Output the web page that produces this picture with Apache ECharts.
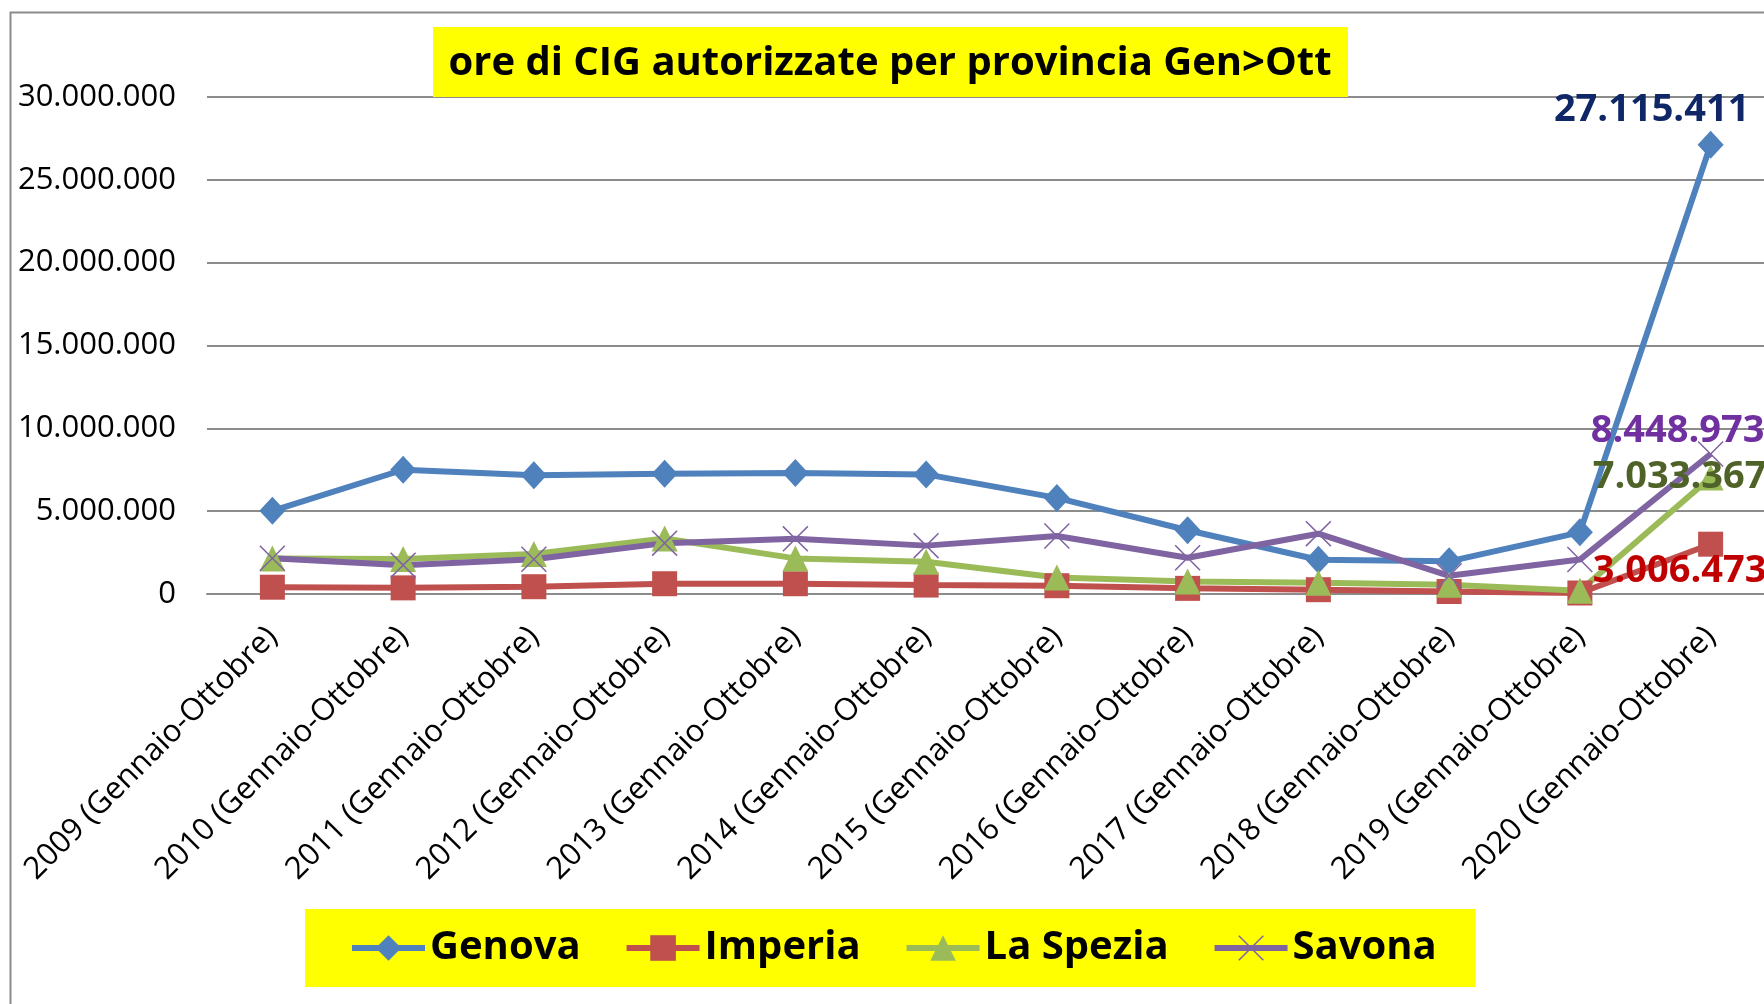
<!DOCTYPE html>
<html>
<head>
<meta charset="utf-8">
<script src="https://cdn.jsdelivr.net/npm/echarts@6/dist/echarts.min.js"></script>
<style>
  html, body { margin: 0; padding: 0; background: #fff; }
  #chart { width: 1764px; height: 1004px; }
</style>
</head>
<body>
<div id="chart"></div>
<script>
const categories = [
  '2009 (Gennaio-Ottobre)', '2010 (Gennaio-Ottobre)', '2011 (Gennaio-Ottobre)',
  '2012 (Gennaio-Ottobre)', '2013 (Gennaio-Ottobre)', '2014 (Gennaio-Ottobre)',
  '2015 (Gennaio-Ottobre)', '2016 (Gennaio-Ottobre)', '2017 (Gennaio-Ottobre)',
  '2018 (Gennaio-Ottobre)', '2019 (Gennaio-Ottobre)', '2020 (Gennaio-Ottobre)'
]
const genova = [5020000, 7500000, 7170000, 7260000, 7300000, 7220000, 5800000, 3850000, 2070000, 1970000, 3720000, 27115411]
const imperia = [410000, 370000, 440000, 620000, 620000, 540000, 500000, 340000, 260000, 150000, 60000, 3006473]
const laSpezia = [2150000, 2120000, 2420000, 3350000, 2150000, 1950000, 1000000, 760000, 680000, 560000, 200000, 7033367]
const savona = [2160000, 1740000, 2100000, 3070000, 3330000, 2920000, 3500000, 2190000, 3640000, 1100000, 2080000, 8448973]
const yMin = 0
const yMax = 30000000
const yStep = 5000000

const FONT = "'Open Sans', sans-serif"
const fmt = v => String(Math.round(v)).replace(/\B(?=(\d{3})+(?!\d))/g, '.')

const xSymbol = 'path://M0,1L1,0L12,11L23,0L24,1L13,12L24,23L23,24L12,13L1,24L0,23L11,12Z'

// only the last point of each line carries a value label
const withLastLabel = values => values.map((v, i) =>
  i === values.length - 1 ? { value: v, label: { show: true } } : v)

const makeSeries = (name, values, color, symbol, symbolSize, labelColor, offset) => ({
  name,
  type: 'line',
  data: withLastLabel(values),
  symbol,
  symbolSize,
  showAllSymbol: true,
  lineStyle: { color, width: 6 },
  itemStyle: { color },
  emphasis: { disabled: true },
  label: {
    show: false,
    position: 'inside',
    offset,
    formatter: p => fmt(p.value),
    color: labelColor,
    fontFamily: FONT,
    fontWeight: 'bold',
    fontSize: 38
  }
})

const chart = echarts.init(document.getElementById('chart'))

chart.setOption({
  backgroundColor: '#fff',
  animation: false,
  graphic: [
    {
      type: 'rect',
      left: 8, top: 10,
      shape: { width: 1800, height: 1100 },
      style: { fill: 'none', stroke: '#8c8c8c', lineWidth: 2 },
      silent: true
    },
    {
      type: 'rect',
      left: 433, top: 27,
      shape: { width: 915, height: 70 },
      style: { fill: '#ffff00' },
      z: 10
    },
    {
      type: 'text',
      x: 890, y: 64,
      style: {
        text: 'ore di CIG autorizzate per provincia Gen>Ott',
        fill: '#000',
        font: 'bold 40px ' + FONT,
        textAlign: 'center',
        textVerticalAlign: 'middle'
      },
      z: 11
    }
  ],
  grid: {
    left: 207, width: 1569, top: 97, bottom: 410,
    containLabel: false,
    outerBoundsMode: 'none'
  },
  legend: {
    left: 305,
    top: 909,
    padding: [19, 39, 19, 44],
    backgroundColor: '#ffff00',
    itemWidth: 73,
    itemHeight: 32,
    itemGap: 43,
    lineStyle: { width: 6 },
    textStyle: { fontFamily: FONT, fontWeight: 'bold', fontSize: 40, color: '#000' },
    data: ['Genova', 'Imperia', 'La Spezia', 'Savona']
  },
  xAxis: {
    type: 'category',
    data: categories,
    boundaryGap: true,
    axisLine: { lineStyle: { color: '#8c8c8c', width: 2 } },
    axisTick: { show: false },
    axisLabel: {
      interval: 0,
      rotate: 45,
      margin: 38,
      color: '#000',
      fontFamily: FONT,
      fontSize: 31
    }
  },
  yAxis: {
    type: 'value',
    min: yMin,
    max: yMax,
    interval: yStep,
    axisLine: { show: false },
    axisTick: { show: false },
    splitLine: { lineStyle: { color: '#8c8c8c', width: 2 } },
    axisLabel: {
      margin: 31,
      color: '#000',
      fontFamily: FONT,
      fontSize: 31,
      formatter: v => fmt(v)
    }
  },
  series: [
    makeSeries('Genova', genova, '#4f81bd', 'diamond', [26, 28], '#0f2766', [-59, -35]),
    makeSeries('Imperia', imperia, '#c0504d', 'rect', 25, '#c00000', [-31, 27]),
    makeSeries('La Spezia', laSpezia, '#9bbb59', 'triangle', 26, '#4f6228', [-31, 0]),
    makeSeries('Savona', savona, '#8064a2', xSymbol, 26, '#7030a0', [-33, -23])
  ]
})
</script>
</body>
</html>
